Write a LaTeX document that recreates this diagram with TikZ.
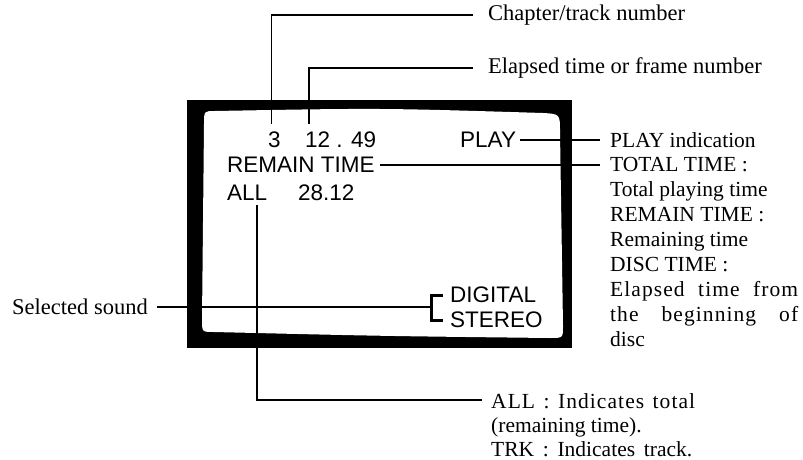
\documentclass[tikz,border=0pt]{standalone}
\usepackage{fontspec}
\setmainfont{Liberation Serif}
\setsansfont{Liberation Sans}
\newcommand\spaced[2]{\makebox[#1][s]{\addfontfeature{LetterSpace=5}#2}}
\tikzset{
  disp/.style={font=\sffamily\fontsize{22.5}{25}\selectfont,inner sep=0pt,anchor=west},
  lbl/.style={font=\fontsize{22.5}{25}\selectfont,inner sep=0pt,anchor=west},
  note/.style={font=\fontsize{21.5}{25}\selectfont,inner sep=0pt,anchor=north west,align=left},
  lead/.style={line width=1.6pt}
}
\begin{document}
\begin{tikzpicture}[x=1pt,y=-1pt]
\useasboundingbox (0,0) rectangle (803,460);
% monitor screen
\fill (187,100) rectangle (572,348);
\fill[white] (215,111) .. controls (380,108) .. (543,113) .. controls (560,114) .. (560,132) -- (563,326) .. controls (563,338) .. (550,338) .. controls (380,336) .. (214,332) .. controls (202,332) .. (202,320) -- (204,124) .. controls (204,111) .. (215,111) -- cycle;
% on-screen display
\node[disp] (n3) at (268,140){3}; \node[disp] (etm) at (305,140){12 . 49}; \node[disp] (ply) at (460,140){PLAY};
\node[disp] (rmt) at (227,165){REMAIN TIME};
\node[disp] (all) at (227,193){ALL}; \node[disp] (rtm) at (298,193){28.12};
\node[disp] (dig) at (450,295){DIGITAL}; \node[disp] (ste) at (450,320){STEREO};
% labels
\node[lbl] (chap) at (488,15){Chapter/track number};
\node[lbl] (elp) at (488,68){Elapsed time or frame number};
\node[note,anchor=west] (pind) at (610,140){PLAY indication};
\node[note] (tot) at (610,157.5){TOTAL TIME :\\Total playing time\\REMAIN TIME :\\Remaining time\\DISC TIME :\\\spaced{188pt}{Elapsed time from}\\\spaced{188pt}{the beginning of}\\disc};
\node[note,font=\fontsize{21.5}{24}\selectfont] (alld) at (491,393){\spaced{204pt}{ALL : Indicates total}\\(remaining time).\\\makebox[201pt][s]{TRK : Indicates track.}};
\node[lbl,anchor=east] (sel) at (148,307){Selected sound};
% leaders
\draw[lead] ([xshift=-3pt,yshift=8pt]n3.north) |- ([xshift=-15pt]chap.west);
\draw[lead] ([xshift=4pt,yshift=8pt]etm.north west) |- ([xshift=-15pt]elp.west);
\draw[lead] ([xshift=4pt]ply.east) -- ([xshift=-10pt]pind.west);
\draw[lead] ([xshift=5pt]rmt.east) -- ([xshift=-10pt]tot.west |- rmt.east);
\draw[lead] ([xshift=10pt,yshift=-4pt]all.south) |- ([xshift=-9pt,yshift=-7pt]alld.north west);
\draw[line width=3pt] ([xshift=-7pt]dig.west) -- ++(-12,0) coordinate (bt) |- ([xshift=-7pt]ste.west);
\draw[lead] ([xshift=9pt]sel.east) -- (bt |- sel.east);
\end{tikzpicture}
\end{document}
